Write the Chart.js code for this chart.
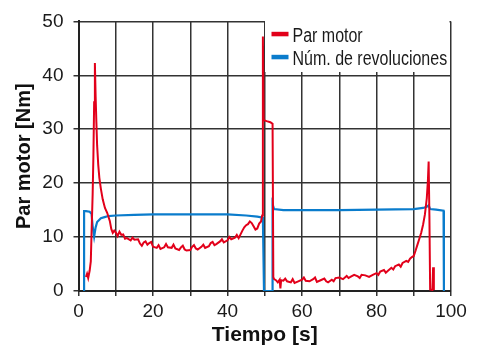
<!DOCTYPE html>
<html>
<head>
<meta charset="utf-8">
<script src="https://cdn.jsdelivr.net/npm/chart.js@4/dist/chart.umd.min.js"></script>
<style>
html,body{margin:0;padding:0;background:#fff;}
#wrap{width:478px;height:349px;position:relative;}
</style>
</head>
<body>
<div id="wrap"><canvas id="c" width="478" height="349"></canvas></div>
<script>
// ---- data ----
const seriesNames = ['Par motor', 'Núm. de revoluciones'];
const xTicks = [0, 10, 20, 30, 40, 50, 60, 70, 80, 90, 100];
const xTickLabels = ['0', '', '20', '', '40', '', '60', '', '80', '', '100'];
const yTicks = [0, 10, 20, 30, 40, 50];

const torqueTime = [
  2.0, 2.3, 2.6, 3.0, 3.3, 3.5, 3.8, 4.0, 4.2, 4.4, 4.6, 4.8, 5.0, 5.3, 5.6, 6.0, 6.5, 7.1, 7.7, 8.4, 8.8, 9.2, 9.6,
  10, 10.5, 11, 11.5, 12, 12.5, 13, 14, 14.5, 15, 16, 16.5, 17, 17.5, 18, 18.5, 19, 19.5, 20, 21, 21.5, 22, 23, 23.5, 24, 25, 25.5, 26, 27, 27.5, 28, 28.5, 29, 30, 30.5, 31, 31.5, 32, 33, 33.5, 34, 35, 35.5, 36, 36.5, 37, 38, 38.5, 39, 40, 40.5, 41, 42, 42.5, 43, 43.5, 44, 44.5, 45, 45.5, 46, 46.5, 47, 47.5, 48, 48.5, 49, 49.3, 49.5, 49.7, 50.5, 51.5, 52.1, 52.3,
  52.5, 53, 53.5, 54, 54.2, 54.4, 55, 55.5, 56, 57, 57.5, 58, 59, 60, 60.5, 61, 62, 63, 63.5, 64, 65, 66, 66.5, 67, 68, 68.5, 69, 70, 71, 72, 72.5, 73, 74, 75, 75.5, 76, 77, 78, 79, 80, 80.5, 81, 82, 82.5, 83, 84, 84.5, 85, 86, 86.5, 87, 88, 88.5, 89, 89.5, 90, 90.5, 91, 91.5, 92, 92.5, 93, 93.5, 93.8, 94.0, 94.2, 94.4, 95.0, 95.2, 95.4
];
const torque = [
  2.6, 3.2, 2.4, 3.8, 5.5, 10.6, 18, 25, 35, 42.3, 36, 31.3, 27, 23.4, 21, 19, 17, 15.4, 14.5, 13, 11.5, 10.8, 11.2,
  10.9, 10.2, 11.0, 10.4, 10.5, 9.7, 9.8, 9.4, 9.9, 9.5, 9.6, 8.8, 8.4, 9.0, 9.2, 8.6, 8.9, 9.1, 8.2, 8.0, 8.5, 7.8, 8.1, 8.7, 8.1, 8.0, 8.6, 7.9, 7.6, 8.1, 8.4, 7.7, 7.5, 7.6, 8.2, 8.5, 7.9, 7.7, 8.2, 8.6, 8.0, 8.3, 8.9, 9.1, 8.5, 8.7, 9.2, 9.6, 9.0, 9.4, 10.0, 9.6, 9.9, 10.4, 9.8, 10.5, 11.2, 11.8, 12.2, 12.4, 12.9, 12.6, 12.0, 11.4, 11.6, 12.5, 12.9, 14, 47.2, 31.7, 31.5, 31.3, 31.0, 2.6,
  2.2, 2.0, 1.6, 2.1, 0.5, 2.0, 1.9, 2.3, 1.8, 1.6, 2.2, 1.5, 1.8, 2.1, 2.5, 1.9, 1.8, 2.2, 2.5, 1.7, 2.0, 2.3, 1.8, 1.6, 2.1, 1.8, 2.4, 2.5, 2.2, 2.8, 2.4, 2.6, 3.0, 2.7, 2.4, 3.0, 2.9, 2.6, 3.0, 3.3, 3.0, 3.6, 3.9, 3.4, 3.7, 4.3, 4.0, 4.6, 4.9, 4.5, 5.2, 5.6, 5.4, 6.0, 6.3, 6.5, 7.5, 8.6, 9.7, 10.8, 12.3, 14.2, 17.2, 20.5, 24.0, 14, 0.3, 0.2, 4.4, 0.2
];

const revTime = [1.5, 1.5, 2, 3, 3.5, 3.8, 4.2, 4.6, 5, 6, 7, 8, 10, 15, 20, 30, 40, 45, 48, 49.5, 49.8, 52.0, 52.1, 52.5, 55, 60, 70, 80, 90, 92.5, 93.5, 94.0, 94.4, 96, 98, 98.1];
const revolutions = [0, 14.8, 14.8, 14.7, 14.3, 12, 10.1, 11.8, 12.8, 13.5, 13.7, 13.9, 14.0, 14.1, 14.2, 14.2, 14.2, 14.0, 13.8, 13.6, 0, 0, 16.1, 15.2, 15.0, 15.0, 15.0, 15.1, 15.2, 15.4, 15.6, 15.9, 15.2, 15.1, 14.9, 0];

const colors = ['#e2001a', '#0a7ccc'];

function pairs(xs, ys){ return xs.map((x,i)=>({x:x, y:ys[i]})); }

const legendPlugin = {
  id: 'boxLegend',
  afterDatasetsDraw(chart){
    const ctx = chart.ctx;
    ctx.save();
    ctx.fillStyle = '#fff';
    ctx.fillRect(265, 19.5, 184.5, 52.5);
    const rows = [{my: 34, ty: 37, t: seriesNames[0], c: colors[0]}, {my: 57, ty: 59.5, t: seriesNames[1], c: colors[1]}];
    rows.forEach(r => {
      ctx.fillStyle = r.c;
      ctx.fillRect(271.5, r.my - 2.2, 17, 4.5);
      ctx.save();
      ctx.translate(292.5, r.ty);
      ctx.scale(0.82, 1);
      ctx.fillStyle = '#1a1a1a';
      ctx.font = '19.5px "Liberation Sans", Arial, sans-serif';
      ctx.textBaseline = 'middle';
      ctx.textAlign = 'left';
      ctx.fillText(r.t, 0, 0);
      ctx.restore();
    });
    ctx.restore();
  }
};

new Chart(document.getElementById('c'), {
  type: 'line',
  data: {
    datasets: [
      { label: seriesNames[0], data: pairs(torqueTime, torque), borderColor: colors[0], borderWidth: 2, pointRadius: 0, tension: 0, fill: false },
      { label: seriesNames[1], data: pairs(revTime, revolutions), borderColor: colors[1], borderWidth: 2.2, pointRadius: 0, tension: 0, fill: false }
    ]
  },
  options: {
    responsive: false,
    animation: false,
    devicePixelRatio: 1,
    layout: { padding: { top: 18, right: 27, left: 0, bottom: 0 } },
    plugins: { legend: { display: false }, tooltip: { enabled: false } },
    scales: {
      x: {
        type: 'linear', min: 0, max: 100,
        afterBuildTicks: s => { s.ticks = xTicks.map(v => ({value: v})); },
        afterFit: s => { s.height = 58; },
        grid: { color: '#333', lineWidth: 1.5, tickLength: 5, tickColor: '#333' },
        border: { color: '#222', width: 2 },
        ticks: { font: { family: '"Liberation Sans", Arial, sans-serif', size: 19 }, color: '#1a1a1a', padding: 4, maxRotation: 0, autoSkip: false,
          callback: (v, i) => xTickLabels[i] },
        title: { display: true, text: 'Tiempo [s]', color: '#111', font: { family: '"Liberation Sans", Arial, sans-serif', size: 21, weight: 'bold' }, padding: { top: 0, bottom: 1 } }
      },
      y: {
        type: 'linear', min: 0, max: 50,
        afterBuildTicks: s => { s.ticks = yTicks.map(v => ({value: v})); },
        afterFit: s => { s.width = 78.5; },
        grid: { color: '#333', lineWidth: 1.5, tickLength: 5, tickColor: '#333' },
        border: { color: '#222', width: 2 },
        ticks: { font: { family: '"Liberation Sans", Arial, sans-serif', size: 19 }, color: '#1a1a1a', padding: 10 },
        title: { display: true, text: 'Par motor [Nm]', color: '#111', font: { family: '"Liberation Sans", Arial, sans-serif', size: 20, weight: 'bold' }, padding: { top: 12, bottom: 0 } }
      }
    }
  },
  plugins: [legendPlugin]
});
</script>
</body>
</html>
